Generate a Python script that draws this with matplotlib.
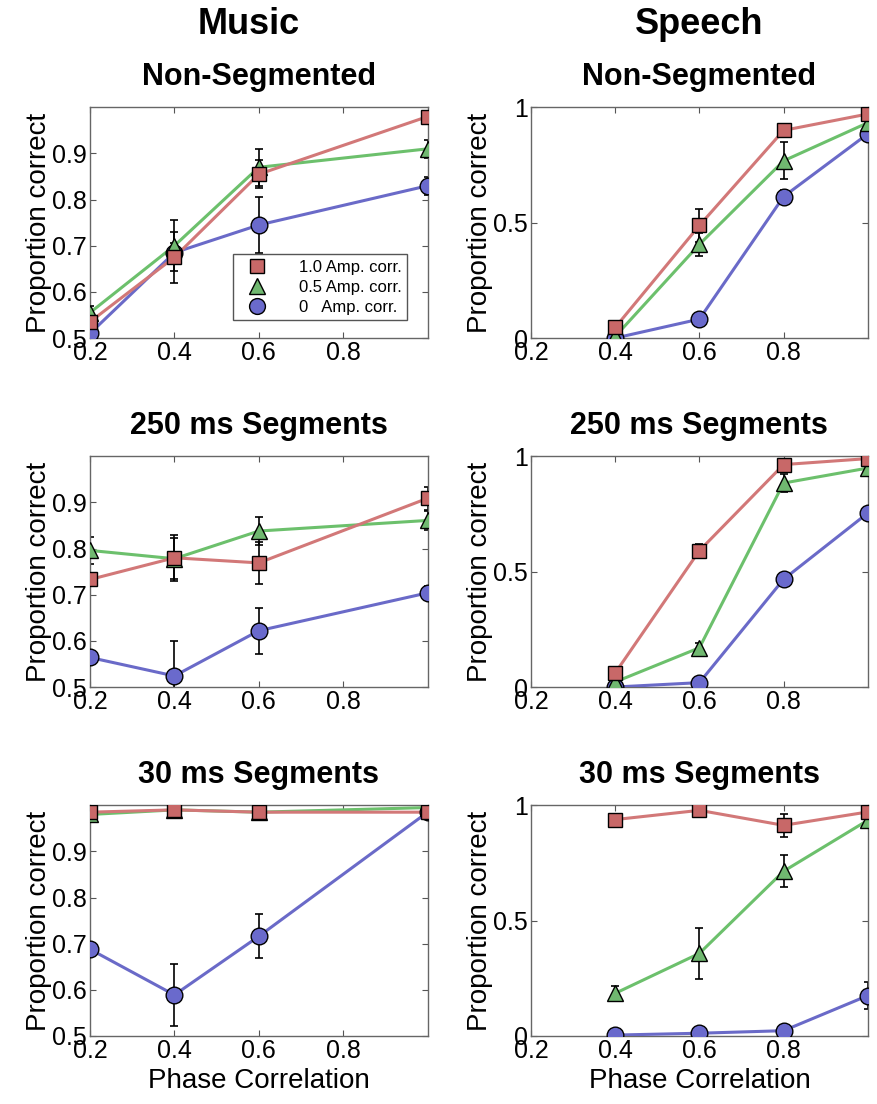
import matplotlib.pyplot as plt
import numpy as np

plt.rcParams['font.family'] = ['Liberation Sans', 'DejaVu Sans']

# x positions (phase correlation)
music_x = [0.2, 0.4, 0.6, 1.0]
speech_x = [0.4, 0.6, 0.8, 1.0]

labels = ["1.0 Amp. corr.", "0.5 Amp. corr.", "0   Amp. corr."]

# Music, proportion correct (red = 1.0, green = 0.5, blue = 0 amp. corr.)
music_nonseg_red = [0.535, 0.675, 0.855, 0.98]
music_nonseg_green = [0.555, 0.70, 0.87, 0.91]
music_nonseg_blue = [0.51, 0.685, 0.745, 0.83]
music_nonseg_red_err = [0.015, 0.055, 0.03, 0.01]
music_nonseg_green_err = [0.015, 0.055, 0.04, 0.02]
music_nonseg_blue_err = [0.01, 0.02, 0.06, 0.02]

music_250_red = [0.733, 0.78, 0.769, 0.909]
music_250_green = [0.796, 0.778, 0.838, 0.861]
music_250_blue = [0.564, 0.524, 0.622, 0.704]
music_250_red_err = [0.015, 0.05, 0.045, 0.025]
music_250_green_err = [0.03, 0.045, 0.03, 0.02]
music_250_blue_err = [0.015, 0.075, 0.05, 0.015]

music_30_red = [0.985, 0.99, 0.985, 0.985]
music_30_green = [0.98, 0.99, 0.985, 0.995]
music_30_blue = [0.688, 0.589, 0.716, 0.985]
music_30_red_err = [0.005, 0.005, 0.005, 0.005]
music_30_green_err = [0.005, 0.01, 0.005, 0.005]
music_30_blue_err = [0.01, 0.067, 0.048, 0.005]

# Speech
speech_nonseg_red = [0.046, 0.488, 0.90, 0.971]
speech_nonseg_green = [0.007, 0.406, 0.768, 0.933]
speech_nonseg_blue = [0.0, 0.082, 0.613, 0.885]
speech_nonseg_red_err = [0.01, 0.07, 0.02, 0.01]
speech_nonseg_green_err = [0.005, 0.05, 0.08, 0.02]
speech_nonseg_blue_err = [0.0, 0.01, 0.03, 0.02]

speech_250_red = [0.061, 0.591, 0.964, 0.99]
speech_250_green = [0.022, 0.17, 0.884, 0.949]
speech_250_blue = [0.0, 0.019, 0.467, 0.754]
speech_250_red_err = [0.01, 0.03, 0.01, 0.005]
speech_250_green_err = [0.005, 0.02, 0.04, 0.01]
speech_250_blue_err = [0.0, 0.005, 0.01, 0.01]

speech_30_red = [0.938, 0.978, 0.913, 0.971]
speech_30_green = [0.185, 0.358, 0.714, 0.935]
speech_30_blue = [0.004, 0.012, 0.023, 0.175]
speech_30_red_err = [0.01, 0.01, 0.05, 0.01]
speech_30_green_err = [0.03, 0.112, 0.07, 0.02]
speech_30_blue_err = [0.0, 0.005, 0.01, 0.06]

titles = ["Non-Segmented", "250 ms Segments", "30 ms Segments"]

music = [
    (music_nonseg_red, music_nonseg_green, music_nonseg_blue,
     music_nonseg_red_err, music_nonseg_green_err, music_nonseg_blue_err),
    (music_250_red, music_250_green, music_250_blue,
     music_250_red_err, music_250_green_err, music_250_blue_err),
    (music_30_red, music_30_green, music_30_blue,
     music_30_red_err, music_30_green_err, music_30_blue_err),
]
speech = [
    (speech_nonseg_red, speech_nonseg_green, speech_nonseg_blue,
     speech_nonseg_red_err, speech_nonseg_green_err, speech_nonseg_blue_err),
    (speech_250_red, speech_250_green, speech_250_blue,
     speech_250_red_err, speech_250_green_err, speech_250_blue_err),
    (speech_30_red, speech_30_green, speech_30_blue,
     speech_30_red_err, speech_30_green_err, speech_30_blue_err),
]

line_colors = ["#d27878", "#6cc06c", "#6a6ac8"]
face_colors = ["#c86868", "#70b870", "#6a6acc"]
markers = ["s", "^", "o"]
msizes = [10, 12, 12]


def draw_panel(ax, x, rows, title, music_panel, legend=False):
    reds, greens, blues, rerr, gerr, berr = rows
    # blue first so red ends up on top
    order = [2, 1, 0]
    ys = [reds, greens, blues]
    errs = [rerr, gerr, berr]
    handles = {}
    for i in order:
        ax.errorbar(x, ys[i], yerr=errs[i], fmt="none", ecolor="black",
                    elinewidth=1.2, capsize=3, capthick=1.2, zorder=2)
        ax.plot(x, ys[i], color=line_colors[i], linewidth=2.2, zorder=3)
        h, = ax.plot(x, ys[i], linestyle="none", marker=markers[i],
                     markersize=msizes[i], markerfacecolor=face_colors[i],
                     markeredgecolor="black", markeredgewidth=1.0, zorder=4,
                     label=labels[i])
        handles[i] = h
    ax.set_xlim(0.2, 1.0)
    ax.set_xticks([0.2, 0.4, 0.6, 0.8])
    ax.set_xticklabels(["0.2", "0.4", "0.6", "0.8"])
    if music_panel:
        ax.set_ylim(0.5, 1.0)
        ax.set_yticks([0.5, 0.6, 0.7, 0.8, 0.9])
        ax.set_yticklabels(["0.5", "0.6", "0.7", "0.8", "0.9"])
    else:
        ax.set_ylim(0, 1.0)
        ax.set_yticks([0, 0.5, 1])
        ax.set_yticklabels(["0", "0.5", "1"])
    ax.tick_params(direction="in", top=True, right=True, length=4,
                   labelsize=18, color="#555555", pad=2)
    for s in ax.spines.values():
        s.set_color("#666666")
        s.set_linewidth(1.0)
    ax.set_ylabel("Proportion correct", fontsize=20, labelpad=0)
    ax.set_title(title, fontsize=22, fontweight="bold", pad=16)
    if legend:
        leg = ax.legend([handles[0], handles[1], handles[2]], labels,
                        loc="lower right", bbox_to_anchor=(0.965, 0.04),
                        fontsize=12, fancybox=False, edgecolor="#555555",
                        framealpha=1, handlelength=2.2, handletextpad=1.4,
                        borderpad=0.35, labelspacing=0.3, markerscale=0.95)
        leg.get_frame().set_linewidth(1.0)


fig = plt.figure(figsize=(8.77, 11.04), dpi=100)
bottoms = [0.6938, 0.3777, 0.0616]
h = 0.209
for r in range(3):
    axm = fig.add_axes([0.1026, bottoms[r], 0.385, h])
    draw_panel(axm, music_x, music[r], titles[r], True, legend=(r == 0))
    axs = fig.add_axes([0.6055, bottoms[r], 0.384, h])
    draw_panel(axs, speech_x, speech[r], titles[r], False)
    if r == 2:
        axm.set_xlabel("Phase Correlation", fontsize=20, labelpad=4)
        axs.set_xlabel("Phase Correlation", fontsize=20, labelpad=4)

fig.text(0.283, 0.978, "Music", fontsize=26, fontweight="bold",
         ha="center", va="center")
fig.text(0.797, 0.978, "Speech", fontsize=26, fontweight="bold",
         ha="center", va="center")

fig.savefig("out.png", dpi=100)
